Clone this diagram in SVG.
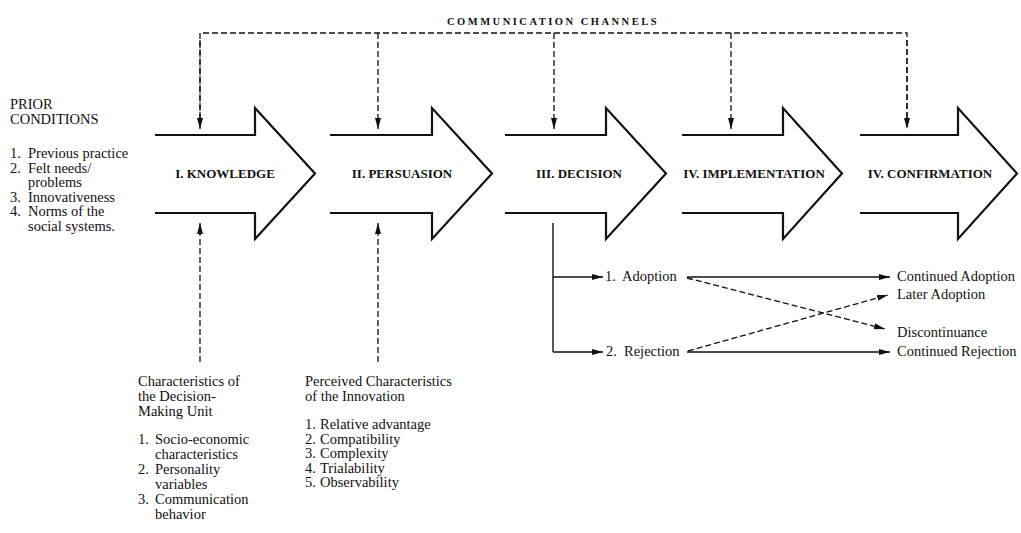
<svg xmlns="http://www.w3.org/2000/svg" width="1021" height="533" viewBox="0 0 1021 533">
<defs>
<style>
.t{font-family:"Liberation Serif","Times New Roman",serif;font-size:14.5px;fill:#111}
.b{font-family:"Liberation Serif","Times New Roman",serif;font-size:13px;font-weight:bold;fill:#111;text-anchor:middle}
.h{font-family:"Liberation Serif","Times New Roman",serif;font-size:10.5px;font-weight:bold;fill:#111;letter-spacing:2.5px;text-anchor:middle}
.stage{fill:#fff;stroke:#111;stroke-width:2.2;stroke-linejoin:miter}
.dash{fill:none;stroke:#111;stroke-width:1.3;stroke-dasharray:6 3}
.solid{fill:none;stroke:#111;stroke-width:1.4}
</style>
<marker id="ah" viewBox="0 0 11 6" markerWidth="11" markerHeight="6" refX="11" refY="3" orient="auto" markerUnits="userSpaceOnUse">
<path d="M0,0 L11,3 L0,6 z" fill="#111"/>
</marker>
</defs>
<rect width="1021" height="533" fill="#fff"/>

<g id="channels-label">
<text class="h" x="553" y="25">COMMUNICATION CHANNELS</text>
</g>

<g id="prior-conditions">
<text class="t" x="10" y="109">PRIOR</text>
<text class="t" x="10" y="124">CONDITIONS</text>
<text class="t" x="10" y="158">1.</text><text class="t" x="28" y="158">Previous practice</text>
<text class="t" x="10" y="172.5">2.</text><text class="t" x="28" y="172.5">Felt needs/</text>
<text class="t" x="28" y="187">problems</text>
<text class="t" x="10" y="201.5">3.</text><text class="t" x="28" y="201.5">Innovativeness</text>
<text class="t" x="10" y="216">4.</text><text class="t" x="28" y="216">Norms of the</text>
<text class="t" x="28" y="230.5">social systems.</text>
</g>

<g id="stage-knowledge">
<path class="stage" d="M155,135 H255 V108 L315,173.5 L255,239 V213 H155"/>
<text class="b" x="225" y="178">I. KNOWLEDGE</text>
</g>
<g id="stage-persuasion">
<path class="stage" d="M330,135 H432 V108 L492,173.5 L432,239 V213 H330"/>
<text class="b" x="402" y="178">II. PERSUASION</text>
</g>
<g id="stage-decision">
<path class="stage" d="M505,135 H606 V108 L666,173.5 L606,239 V213 H505"/>
<text class="b" x="579" y="178">III. DECISION</text>
</g>
<g id="stage-implementation">
<path class="stage" d="M682,135 H783 V108 L842,173.5 L783,239 V213 H682"/>
<text class="b" x="754" y="178">IV. IMPLEMENTATION</text>
</g>
<g id="stage-confirmation">
<path class="stage" d="M860,135 H958 V108 L1017,173.5 L958,239 V213 H860"/>
<text class="b" x="930" y="178">IV. CONFIRMATION</text>
</g>

<g id="dmu-characteristics">
<text class="t" x="138" y="386">Characteristics of</text>
<text class="t" x="138" y="401">the Decision-</text>
<text class="t" x="138" y="416">Making Unit</text>
<text class="t" x="138" y="444">1.</text><text class="t" x="155" y="444">Socio-economic</text>
<text class="t" x="155" y="459">characteristics</text>
<text class="t" x="138" y="474">2.</text><text class="t" x="155" y="474">Personality</text>
<text class="t" x="155" y="489">variables</text>
<text class="t" x="138" y="504">3.</text><text class="t" x="155" y="504">Communication</text>
<text class="t" x="155" y="519">behavior</text>
</g>

<g id="innovation-characteristics">
<text class="t" x="305" y="386">Perceived Characteristics</text>
<text class="t" x="305" y="401">of the Innovation</text>
<text class="t" x="305" y="429">1.</text><text class="t" x="320" y="429">Relative advantage</text>
<text class="t" x="305" y="443.5">2.</text><text class="t" x="320" y="443.5">Compatibility</text>
<text class="t" x="305" y="458">3.</text><text class="t" x="320" y="458">Complexity</text>
<text class="t" x="305" y="472.5">4.</text><text class="t" x="320" y="472.5">Trialability</text>
<text class="t" x="305" y="487">5.</text><text class="t" x="320" y="487">Observability</text>
</g>

<g id="adoption"><text class="t" x="605" y="281">1.</text><text class="t" x="622" y="281">Adoption</text></g>
<g id="rejection"><text class="t" x="606" y="356">2.</text><text class="t" x="624" y="356">Rejection</text></g>
<g id="continued-adoption"><text class="t" x="897" y="281">Continued Adoption</text></g>
<g id="later-adoption"><text class="t" x="897" y="299">Later Adoption</text></g>
<g id="discontinuance"><text class="t" x="897" y="337">Discontinuance</text></g>
<g id="continued-rejection"><text class="t" x="897" y="356">Continued Rejection</text></g>

<g id="connectors">
<path class="dash" d="M200,129 V33 H907 V129"/>
<path class="dash" d="M200,40 V129" marker-end="url(#ah)"/>
<path class="dash" d="M378,33 V129" marker-end="url(#ah)"/>
<path class="dash" d="M554,33 V129" marker-end="url(#ah)"/>
<path class="dash" d="M731,33 V129" marker-end="url(#ah)"/>
<path class="dash" d="M907,40 V129" marker-end="url(#ah)"/>
<path class="dash" d="M200,362 V223" marker-end="url(#ah)"/>
<path class="dash" d="M378,362 V223" marker-end="url(#ah)"/>
<path class="solid" d="M553,223 V352"/>
<path class="solid" d="M553,277 H603" marker-end="url(#ah)"/>
<path class="solid" d="M553,352 H603" marker-end="url(#ah)"/>
<path class="solid" d="M687,277 H890" marker-end="url(#ah)"/>
<path class="solid" d="M687,352 H890" marker-end="url(#ah)"/>
<path class="dash" d="M687,278 L885,329" marker-end="url(#ah)"/>
<path class="dash" d="M688,351 L888,295" marker-end="url(#ah)"/>
</g>
</svg>
